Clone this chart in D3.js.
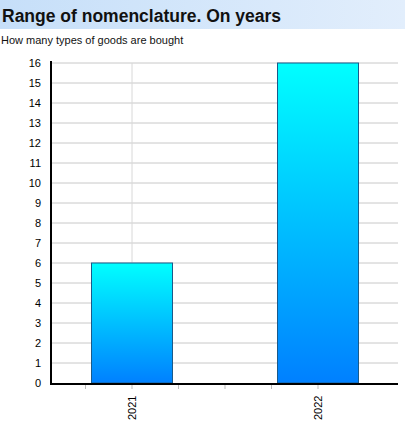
<!DOCTYPE html>
<html><head><meta charset="utf-8">
<script src="https://cdn.jsdelivr.net/npm/d3@7"></script>
<style>body{margin:0;background:#fff}text{font-family:"Liberation Sans",Arial,sans-serif}</style>
</head><body><svg id="c" width="405" height="430"></svg>
<script>
const years = ["2021","2022"];
const counts = [6,16];
const yTicks = d3.range(0,17);
const title = "Range of nomenclature. On years";
const subtitle = "How many types of goods are bought";

const svg = d3.select("#c");
const defs = svg.append("defs");
const tg = defs.append("linearGradient").attr("id","tg");
tg.append("stop").attr("offset","0").attr("stop-color","#c6dff9");
tg.append("stop").attr("offset","1").attr("stop-color","#e2eefc");
const bg = defs.append("linearGradient").attr("id","bg").attr("x1",0).attr("x2",0).attr("y1",0).attr("y2",1);
bg.append("stop").attr("offset","0").attr("stop-color","#00ffff");
bg.append("stop").attr("offset","1").attr("stop-color","#0080ff");

svg.append("rect").attr("x",0).attr("y",0).attr("width",405).attr("height",29).attr("fill","url(#tg)");
svg.append("text").attr("x",2).attr("y",22).attr("font-size",17.5).attr("font-weight","bold").attr("fill","#111").text(title);
svg.append("text").attr("x",1).attr("y",44).attr("font-size",11).attr("fill","#111").text(subtitle);

const y = d3.scaleLinear().domain([0,16]).range([383,63]);
const x = d3.scaleBand().domain(years).range([39,411]);
const L=51, R=398;

// grid
svg.append("g").selectAll("line").data(yTicks.slice(1)).join("line")
 .attr("x1",L).attr("x2",R).attr("y1",d=>y(d)).attr("y2",d=>y(d)).attr("stroke","#c8c8c8");
svg.append("g").selectAll("line").data(years).join("line")
 .attr("x1",d=>x(d)+x.bandwidth()/2).attr("x2",d=>x(d)+x.bandwidth()/2).attr("y1",y(16)).attr("y2",y(0)).attr("stroke","#d8d8d8");

// bars
const bw = 81;
svg.append("g").selectAll("rect").data(years).join("rect")
 .attr("x",d=>x(d)+x.bandwidth()/2-bw/2).attr("width",bw)
 .attr("y",(d,i)=>y(counts[i])).attr("height",(d,i)=>y(0)-y(counts[i]))
 .attr("fill","url(#bg)").attr("stroke","#1a5a8a").attr("stroke-width",1);

// y axis
const ya = svg.append("g").attr("transform",`translate(${L},0)`)
 .call(d3.axisLeft(y).tickValues(yTicks).tickSize(0).tickPadding(10));
ya.select(".domain").remove();
ya.selectAll("text").attr("font-size",11).attr("fill","#000").attr("font-family","Liberation Sans, Arial, sans-serif");
svg.append("line").attr("x1",L).attr("x2",L).attr("y1",y(16)-2).attr("y2",y(0)+1).attr("stroke","#000").attr("stroke-width",2);

// x axis
svg.append("line").attr("x1",L-1).attr("x2",R).attr("y1",y(0)+1).attr("y2",y(0)+1).attr("stroke","#000").attr("stroke-width",2);
const minor = d3.range(0,7).map(i=>x(years[0])+x.bandwidth()*i/4);
svg.append("g").selectAll("line").data(minor.filter(v=>v>L&&v<R)).join("line")
 .attr("x1",d=>d).attr("x2",d=>d).attr("y1",y(0)+2).attr("y2",y(0)+6).attr("stroke","#bbb");
svg.append("g").selectAll("text").data(years).join("text")
 .attr("transform",d=>`translate(${x(d)+x.bandwidth()/2+4},420) rotate(-90)`)
 .attr("font-size",11).attr("fill","#000").text(d=>d);
</script></body></html>
